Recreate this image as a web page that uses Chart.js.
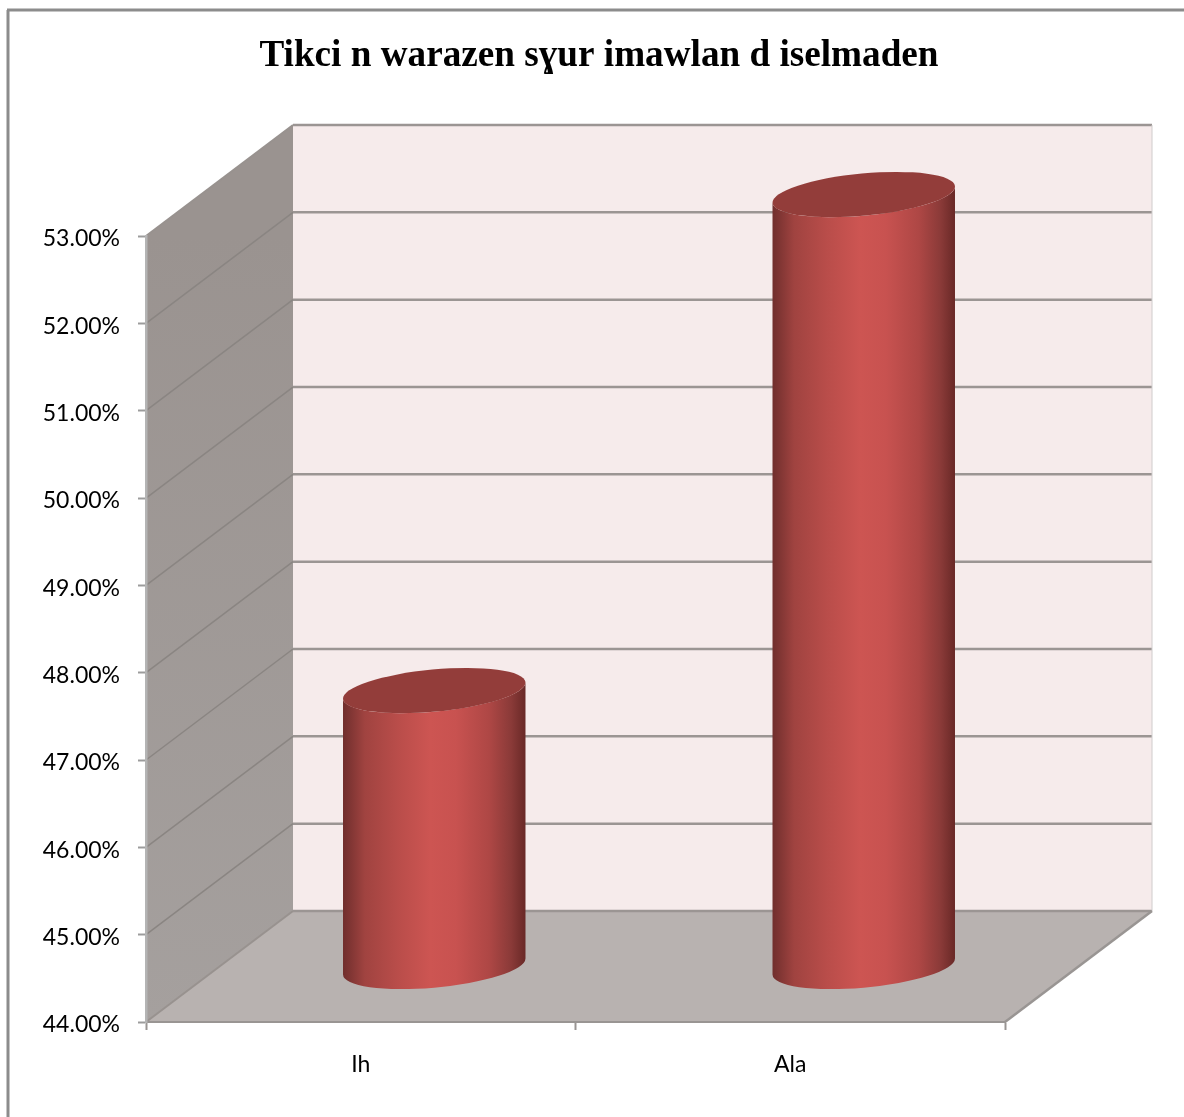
<!DOCTYPE html>
<html>
<head>
<meta charset="utf-8">
<title>Tikci n warazen sɣur imawlan d iselmaden</title>
<style>
    html, body { margin: 0; padding: 0; background: #fff; }
    canvas { display: block; }
</style>
<script src="https://cdn.jsdelivr.net/npm/chart.js@4"></script>
</head>
<body>
<canvas id="cylinderChart" width="1184" height="1117"></canvas>
<script>
const chartTitle = 'Tikci n warazen sɣur imawlan d iselmaden';
const categories = ['Ih', 'Ala'];
const shares = [47.16, 52.84];
const axisMin = 44;
const axisMax = 53;
const axisStep = 1;

// 3D look of the plot box, depth of the walls in pixels
const DEPTH_X = 147;
const DEPTH_Y = -111;
const TILT = -5.3 * Math.PI / 180;

/**
 * Walls, floor and wall gridlines, placed from the scales
 */
const box3d = {
    id: 'box3d',
    // y labels sit a little under their ticks in the original
    afterUpdate(chart) {
        chart.scales.y.getLabelItems().forEach(item => {
            item.textOffset += 3;
        });
    },
    beforeDraw(chart) {
        const { ctx, chartArea: a, scales: { y } } = chart;
        const poly = (pts, fill) => {
            ctx.beginPath();
            pts.forEach(([px, py], i) => (i ? ctx.lineTo(px, py) : ctx.moveTo(px, py)));
            ctx.closePath();
            ctx.fillStyle = fill;
            ctx.fill();
        };
        const line = (x1, y1, x2, y2, color, width) => {
            ctx.beginPath();
            ctx.moveTo(x1, y1);
            ctx.lineTo(x2, y2);
            ctx.strokeStyle = color;
            ctx.lineWidth = width;
            ctx.stroke();
        };

        ctx.save();

        // page frame, only left and top show
        line(8, 10, 8, chart.height, '#8c8c8c', 3);
        line(7, 10, chart.width, 10, '#8c8c8c', 3);

        const backL = a.left + DEPTH_X;
        const backR = a.right + DEPTH_X;
        const backT = a.top + DEPTH_Y;
        const backB = a.bottom + DEPTH_Y;

        poly([[backL, backT], [backR, backT], [backR, backB], [backL, backB]], '#f6ebeb');

        const wall = ctx.createLinearGradient(0, a.top, 0, a.bottom);
        wall.addColorStop(0, '#9a9390');
        wall.addColorStop(1, '#a5a09e');
        poly([[a.left, a.top], [backL, backT], [backL, backB], [a.left, a.bottom]], wall);

        poly([[a.left, a.bottom], [backL, backB], [backR, backB], [a.right, a.bottom]], '#b8b2b0');

        y.ticks.forEach(t => {
            const py = y.getPixelForValue(t.value);
            const isEdge = t.value === axisMin || t.value === axisMax;
            line(a.left, py, backL, py + DEPTH_Y, isEdge ? '#98928f' : '#8a8582', isEdge ? 2 : 1.5);
            line(backL, py + DEPTH_Y, backR, py + DEPTH_Y, '#9b9593', 2.5);
        });

        line(backR, backT, backR, backB, '#d0cccc', 1);
        line(a.right, a.bottom, backR, backB, '#999593', 2.5);
        ctx.restore();
    },

    /**
     * Cylinders, one for each bar element of the dataset
     */
    afterDatasetsDraw(chart) {
        const { ctx, scales: { y } } = chart;
        chart.getDatasetMeta(0).data.forEach(bar => {
            const rx = bar.width / 2;
            const ry = bar.width * 0.115;
            const cx = bar.x + DEPTH_X / 2;
            const topY = bar.y + DEPTH_Y / 2;
            // the element base is the pixel of 0, the cylinder stands on the axis minimum
            const baseY = y.getPixelForValue(axisMin) + DEPTH_Y / 2;
            const t0 = Math.atan(-(ry / rx) * Math.tan(TILT));

            const body = ctx.createLinearGradient(cx - rx, 0, cx + rx, 0);
            body.addColorStop(0, '#702e2c');
            body.addColorStop(0.04, '#7f3533');
            body.addColorStop(0.12, '#a04340');
            body.addColorStop(0.3, '#b94d4a');
            body.addColorStop(0.48, '#cd5552');
            body.addColorStop(0.62, '#c85250');
            body.addColorStop(0.8, '#ae4745');
            body.addColorStop(0.92, '#8a3a38');
            body.addColorStop(1, '#682826');

            ctx.save();
            ctx.beginPath();
            ctx.ellipse(cx, baseY, rx, ry, TILT, t0, t0 + Math.PI);
            ctx.ellipse(cx, topY, rx, ry, TILT, t0 + Math.PI, t0, true);
            ctx.closePath();
            ctx.fillStyle = body;
            ctx.fill();

            ctx.beginPath();
            ctx.ellipse(cx, topY, rx, ry, TILT, 0, Math.PI * 2);
            ctx.fillStyle = '#933d3a';
            ctx.fill();
            ctx.restore();
        });
    },
};

new Chart(document.getElementById('cylinderChart').getContext('2d'), {
    type: 'bar',
    data: {
        labels: categories,
        datasets: [{
            label: 'Tikci',
            data: shares,
            backgroundColor: 'transparent',
            borderWidth: 0,
            barPercentage: 0.4266,
            categoryPercentage: 1,
        }],
    },
    options: {
        responsive: false,
        animation: false,
        layout: { padding: { left: 14, right: 0, top: 0, bottom: 0 } },
        plugins: {
            legend: { display: false },
            tooltip: { enabled: false },
            title: {
                display: true,
                text: chartTitle,
                color: '#000',
                font: { family: '"Liberation Serif"', size: 37.2, weight: 'bold', lineHeight: 1.2 },
                padding: { top: 34, bottom: 157.4 },
            },
        },
        scales: {
            x: {
                grid: {
                    offset: true,
                    drawOnChartArea: false,
                    drawTicks: true,
                    tickLength: 8,
                    tickColor: '#999593',
                    tickWidth: 2,
                },
                border: { color: '#999593', width: 2 },
                ticks: {
                    color: '#000',
                    padding: 21,
                    maxRotation: 0,
                    font: { family: 'Lato', size: 23 },
                },
                afterFit(scale) { scale.height = 95; },
            },
            y: {
                min: axisMin,
                max: axisMax,
                grid: {
                    drawOnChartArea: false,
                    drawTicks: true,
                    tickLength: 8,
                    tickColor: '#9c9c9c',
                    tickWidth: 2,
                },
                border: { color: '#b4b4b4', width: 2.5 },
                ticks: {
                    stepSize: axisStep,
                    color: '#000',
                    padding: 18,
                    font: { family: 'Lato', size: 23 },
                    callback: value => value.toFixed(2) + '%',
                },
                afterFit(scale) { scale.width = 132; },
            },
            // empty right gutter, keeps the title centred where it sits in the original
            gutter: {
                position: 'right',
                display: true,
                grid: { display: false },
                border: { display: false },
                ticks: { display: false },
                afterFit(scale) { scale.width = 179; },
            },
        },
    },
    plugins: [box3d],
});
</script>
</body>
</html>
